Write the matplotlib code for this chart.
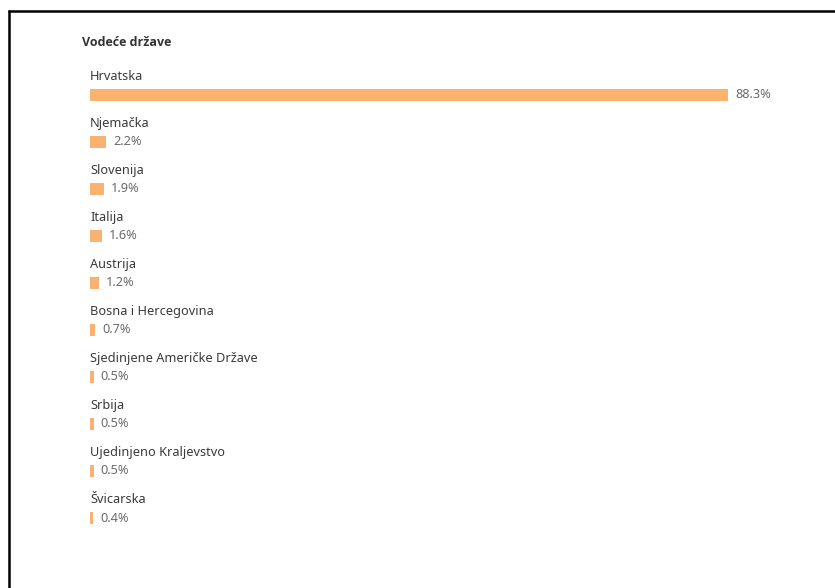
import matplotlib
matplotlib.use("Agg")
import matplotlib.pyplot as plt
from matplotlib.lines import Line2D

countries = ["Hrvatska", "Njemačka", "Slovenija", "Italija", "Austrija",
             "Bosna i Hercegovina", "Sjedinjene Američke Države", "Srbija",
             "Ujedinjeno Kraljevstvo", "Švicarska"]
shares = [88.3, 2.2, 1.9, 1.6, 1.2, 0.7, 0.5, 0.5, 0.5, 0.4]
title = "Vodeće države"

W, H = 835, 588
plt.rcParams['font.family'] = ['Noto Sans', 'DejaVu Sans']
fig = plt.figure(figsize=(W / 100, H / 100), dpi=100)
fig.patch.set_facecolor('white')

# axes: x from px 90 to px 835; 88.3% -> px 728
x0_px = 90
px_per_pct = (728 - 90) / 88.3
xmax = (W - x0_px) / px_per_pct
row0_px, row_px = 95, 47
ax = fig.add_axes([x0_px / W, 0, (W - x0_px) / W, 1])
ax.set_xlim(0, xmax)
ax.set_ylim((H - row0_px) / row_px, -row0_px / row_px)
ax.axis('off')

bar_color = '#F9B26F'
ypos = list(range(len(countries)))
ax.barh(ypos, shares, height=12 / row_px, color=bar_color, linewidth=0)

for i, (c, v) in enumerate(zip(countries, shares)):
    ax.text(0, i - 18.5 / row_px, c, fontsize=9.2, color='#3a3a3a',
            va='center', ha='left')
    ax.text(v + 7 / px_per_pct, i, f"{v:.1f}%", fontsize=9.2, color='#6b6b6b',
            va='center', ha='left')

fig.text(82 / W, 1 - 43 / H, title, fontsize=9.0, fontweight='bold',
         family=['Open Sans', 'DejaVu Sans'],
         color='#333333', va='center', ha='left')

# frame lines (top and left)
fig.add_artist(Line2D([8 / W, 1], [1 - 10.8 / H, 1 - 10.8 / H], color='black',
                      linewidth=1.8, transform=fig.transFigure,
                      solid_capstyle='butt'))
fig.add_artist(Line2D([8.8 / W, 8.8 / W], [0, 1 - 10 / H], color='black',
                      linewidth=1.8, transform=fig.transFigure,
                      solid_capstyle='butt'))

fig.savefig("out.png", dpi=100, facecolor='white')
